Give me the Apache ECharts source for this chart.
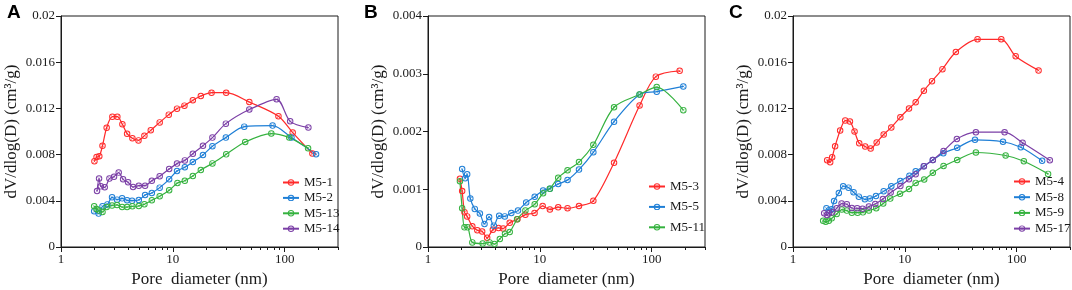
<!DOCTYPE html>
<html>
<head>
<meta charset="utf-8">
<script src="https://cdn.jsdelivr.net/npm/echarts@6.0.0/dist/echarts.min.js"></script>
<style>
  html, body { margin: 0; padding: 0; background: #fff; }
  #chart { width: 1072px; height: 290px; }
</style>
</head>
<body>
<div id="chart"></div>
<script>
// ---- panel A : [pore diameter nm, dV/dlog(D)]
const m5_1 = [[1.99,0.00742],[2.08,0.00779],[2.2,0.00785],[2.35,0.00877],[2.56,0.01033],[2.88,0.01128],[3.19,0.01128],[3.54,0.01062],[3.9,0.00981],[4.35,0.00941],[4.93,0.00923],[5.57,0.00964],[6.35,0.0101],[7.63,0.01079],[9.2,0.01146],[10.9,0.01198],[12.7,0.01224],[15.1,0.0127],[17.8,0.01307],[22.2,0.01336],[30,0.01336],[48.3,0.01255],[88,0.01132],[118,0.00991],[177,0.00809]];
const m5_2 = [[1.98,0.00309],[2.17,0.00289],[2.35,0.00352],[2.6,0.00369],[2.86,0.0043],[3.17,0.0041],[3.52,0.00421],[3.9,0.00404],[4.32,0.00401],[4.96,0.00407],[5.65,0.0045],[6.49,0.00468],[7.63,0.00514],[9.27,0.00586],[10.9,0.00658],[12.8,0.0069],[15.1,0.00736],[18.6,0.00797],[22.6,0.00872],[29.8,0.00947],[43.5,0.01042],[78,0.01051],[115,0.00947],[191,0.00803]];
const m5_13 = [[1.98,0.00352],[2.08,0.00329],[2.19,0.00315],[2.35,0.00303],[2.56,0.00346],[2.86,0.0036],[3.17,0.00364],[3.52,0.00346],[3.9,0.00346],[4.35,0.00352],[4.96,0.00355],[5.57,0.0037],[6.49,0.00404],[7.63,0.00439],[9.27,0.00491],[11,0.00554],[12.8,0.00574],[15.1,0.00615],[17.8,0.00667],[22.6,0.00724],[30,0.00802],[44.4,0.00909],[76,0.00982],[110,0.00947],[162,0.00855]];
const m5_14 = [[2.1,0.00485],[2.19,0.00592],[2.27,0.00525],[2.46,0.00517],[2.71,0.00592],[2.98,0.00609],[3.28,0.00644],[3.59,0.00586],[3.98,0.0056],[4.41,0.00519],[4.96,0.00531],[5.65,0.00531],[6.49,0.00574],[7.63,0.00612],[9.27,0.00675],[10.9,0.00722],[12.8,0.0075],[15.1,0.00808],[18.6,0.00877],[22.6,0.00947],[29.8,0.01068],[48.3,0.0119],[84.7,0.01279],[112,0.01088],[163,0.01034]];

// ---- panel B
const m5_3 = [[1.93,0.00118],[2.02,0.00097],[2.12,0.0006],[2.24,0.00053],[2.49,0.00036],[2.76,0.00029],[3.05,0.00027],[3.38,0.00016],[3.8,0.0003],[4.27,0.00033],[4.7,0.00032],[5.38,0.00042],[6.3,0.00048],[7.43,0.00056],[8.97,0.00059],[10.6,0.00071],[12.3,0.00065],[14.6,0.00069],[17.7,0.00067],[22.4,0.00071],[30.1,0.0008],[46.1,0.00146],[78,0.00245],[109,0.00295],[178,0.00305]];
const m5_5 = [[2.02,0.00135],[2.15,0.00119],[2.24,0.00126],[2.39,0.00084],[2.62,0.00066],[2.91,0.00058],[3.2,0.0004],[3.52,0.00052],[3.88,0.00037],[4.33,0.00054],[4.86,0.00053],[5.56,0.00059],[6.38,0.00063],[7.55,0.00077],[9.0,0.00087],[10.7,0.00098],[12.3,0.00101],[14.6,0.00109],[17.7,0.00116],[22.4,0.00134],[30.1,0.00164],[46.1,0.00217],[78,0.00264],[111,0.00269],[192,0.00278]];
const m5_11 = [[1.93,0.00114],[2.02,0.00067],[2.12,0.00034],[2.25,0.00034],[2.49,0.00008],[3.08,0.00006],[3.55,0.00008],[3.93,0.00005],[4.39,0.00014],[4.88,0.00023],[5.38,0.00026],[6.26,0.00048],[7.43,0.00063],[9.0,0.00074],[10.7,0.00093],[12.3,0.00101],[14.6,0.0012],[17.7,0.00133],[22.4,0.00147],[30.1,0.00177],[46.1,0.00242],[78,0.00264],[111,0.00277],[192,0.00237]];

// ---- panel C
const m5_4 = [[2.02,0.00751],[2.15,0.00734],[2.24,0.00777],[2.38,0.00873],[2.64,0.01009],[2.93,0.01095],[3.23,0.01087],[3.55,0.01],[3.91,0.00899],[4.42,0.0087],[4.95,0.00853],[5.6,0.00905],[6.47,0.00974],[7.57,0.01035],[9.12,0.01124],[10.9,0.01199],[12.5,0.01254],[14.8,0.01353],[17.5,0.01436],[21.7,0.0154],[28.6,0.01688],[44.7,0.01798],[72.9,0.01798],[98,0.01651],[157,0.01529]];
const m5_8 = [[1.99,0.00335],[2.09,0.00317],[2.21,0.00326],[2.33,0.00399],[2.57,0.00468],[2.81,0.00526],[3.14,0.00514],[3.48,0.00474],[3.88,0.00436],[4.39,0.00413],[4.87,0.00419],[5.52,0.00442],[6.47,0.00482],[7.57,0.00526],[9.12,0.00572],[11,0.00616],[12.5,0.00656],[14.8,0.00699],[17.8,0.00754],[22.1,0.00812],[29.4,0.00859],[42.4,0.00928],[75.5,0.00911],[109,0.00864],[169,0.00746]];
const m5_9 = [[1.86,0.00228],[1.96,0.00219],[2.09,0.00228],[2.22,0.00248],[2.46,0.00286],[2.73,0.00324],[3.03,0.00315],[3.36,0.00297],[3.78,0.00297],[4.22,0.003],[4.77,0.00317],[5.55,0.00335],[6.41,0.00376],[7.41,0.00419],[9.06,0.0046],[10.9,0.00503],[12.5,0.00555],[14.9,0.00584],[17.8,0.00642],[22.2,0.00701],[29.4,0.00754],[43.2,0.00818],[79.7,0.00792],[116,0.00742],[191,0.00633]];
const m5_17 = [[1.9,0.00292],[2.01,0.00277],[2.1,0.00292],[2.24,0.003],[2.46,0.00335],[2.72,0.00376],[3.03,0.0037],[3.36,0.00338],[3.75,0.00335],[4.19,0.00332],[4.77,0.0035],[5.44,0.00373],[6.37,0.00416],[7.47,0.00471],[9.12,0.00529],[10.9,0.00586],[12.5,0.0063],[14.8,0.00699],[17.8,0.00754],[22.2,0.00831],[29.2,0.00935],[43.2,0.00994],[78,0.00994],[113,0.00902],[198,0.00751]];

const xMin = 1, xMax = 300;
const minorTickVals = [2, 3, 4, 5, 6, 7, 8, 9, 20, 30, 40, 50, 60, 70, 80, 90, 200, 300];
const yMaxes = [0.02, 0.004, 0.02];
const ySteps = [0.004, 0.001, 0.004];

const RED = '#ff2a2a', BLUE = '#1f7fd6', GREEN = '#35b23f', PURPLE = '#7b3fa6';
const serif = '"Liberation Serif", "Times New Roman", serif';
const ink = '#1a1a1a';

// ring with a cross inside
const marker = 'path://M0,-10A10,10 0 1,1 0,10A10,10 0 1,1 0,-10Z' +
  'M0,-7A7,7 0 1,0 0,7A7,7 0 1,0 0,-7Z' +
  'M-5,-4.2L4.2,5L5,4.2L-4.2,-5Z M4.2,-5L-5,4.2L-4.2,5L5,-4.2Z';

const panels = [
  { tag: 'A', left: 61, tagX: 7, lines: [['M5-1', m5_1, RED], ['M5-2', m5_2, BLUE], ['M5-13', m5_13, GREEN], ['M5-14', m5_14, PURPLE]],
    legend: { left: 282, top: 176, gap: 2.4 } },
  { tag: 'B', left: 428, tagX: 364, lines: [['M5-3', m5_3, RED], ['M5-5', m5_5, BLUE], ['M5-11', m5_11, GREEN]],
    legend: { left: 648, top: 180, gap: 7.4 } },
  { tag: 'C', left: 793, tagX: 729, lines: [['M5-4', m5_4, RED], ['M5-8', m5_8, BLUE], ['M5-9', m5_9, GREEN], ['M5-17', m5_17, PURPLE]],
    legend: { left: 1013, top: 175, gap: 2.7 } }
];

const grid = [], xAxis = [], yAxis = [], series = [], legend = [], graphic = [];

panels.forEach((p, i) => {
  grid.push({ left: p.left, top: 16, width: 277, height: 231, show: true, borderColor: ink, borderWidth: 1, outerBoundsMode: 'none' });
  // main log axis
  xAxis.push({
    type: 'log', logBase: 10, min: xMin, max: xMax, gridIndex: i, position: 'bottom',
    name: 'Pore  diameter (nm)', nameLocation: 'middle', nameGap: 21,
    nameTextStyle: { fontFamily: serif, fontSize: 17, color: ink },
    axisLine: { lineStyle: { color: ink, width: 1 } },
    axisTick: { length: 5, lineStyle: { color: ink } },
    minorTick: { show: false },
    splitLine: { show: false },
    axisLabel: { fontFamily: serif, fontSize: 13, color: ink, margin: 6, showMaxLabel: false,
      formatter: v => (v === 1 || v === 10 || v === 100) ? String(v) : '' }
  });
  // helper axis in log10 units, only for the 2..9 minor ticks
  xAxis.push({
    type: 'value', min: Math.log10(xMin), max: Math.log10(xMax), gridIndex: i, position: 'bottom',
    axisLine: { show: false }, axisLabel: { show: false }, splitLine: { show: false },
    axisTick: { show: true, length: 3, lineStyle: { color: ink }, customValues: minorTickVals.map(v => Math.log10(v)) }
  });
  yAxis.push({
    type: 'value', min: 0, max: yMaxes[i], interval: ySteps[i], gridIndex: i,
    name: 'dV/dlog(D) (cm³/g)', nameLocation: 'middle', nameGap: 41,
    nameTextStyle: { fontFamily: serif, fontSize: 17, color: ink },
    axisLine: { show: true, lineStyle: { color: ink, width: 1 } },
    axisTick: { show: true, length: 5, lineStyle: { color: ink } },
    splitLine: { show: false },
    axisLabel: { fontFamily: serif, fontSize: 13, color: ink, margin: 6,
      formatter: v => v === 0 ? '0' : String(parseFloat(v.toFixed(4))) }
  });
  p.lines.forEach(([name, data, color]) => {
    series.push({
      type: 'line', name, data, xAxisIndex: i * 2, yAxisIndex: i,
      smooth: 0.3, symbol: marker, symbolSize: 6.5,
      lineStyle: { color, width: 1.2 },
      itemStyle: { color, borderWidth: 0 }
    });
  });
  legend.push({
    data: p.lines.map(l => l[0]), orient: 'vertical', padding: 0,
    left: p.legend.left, top: p.legend.top, itemGap: p.legend.gap,
    itemWidth: 16, itemHeight: 8,
    textStyle: { fontFamily: serif, fontSize: 13, color: ink }
  });
  graphic.push({ type: 'text', left: p.tagX, top: 3,
    style: { text: p.tag, font: 'bold 19px "Liberation Sans", Arial, sans-serif', fill: '#000' } });
});

const chart = echarts.init(document.getElementById('chart'), null, { renderer: 'canvas' });
chart.setOption({
  animation: false,
  backgroundColor: '#fff',
  grid, xAxis, yAxis, series, legend, graphic
});
</script>
</body>
</html>
